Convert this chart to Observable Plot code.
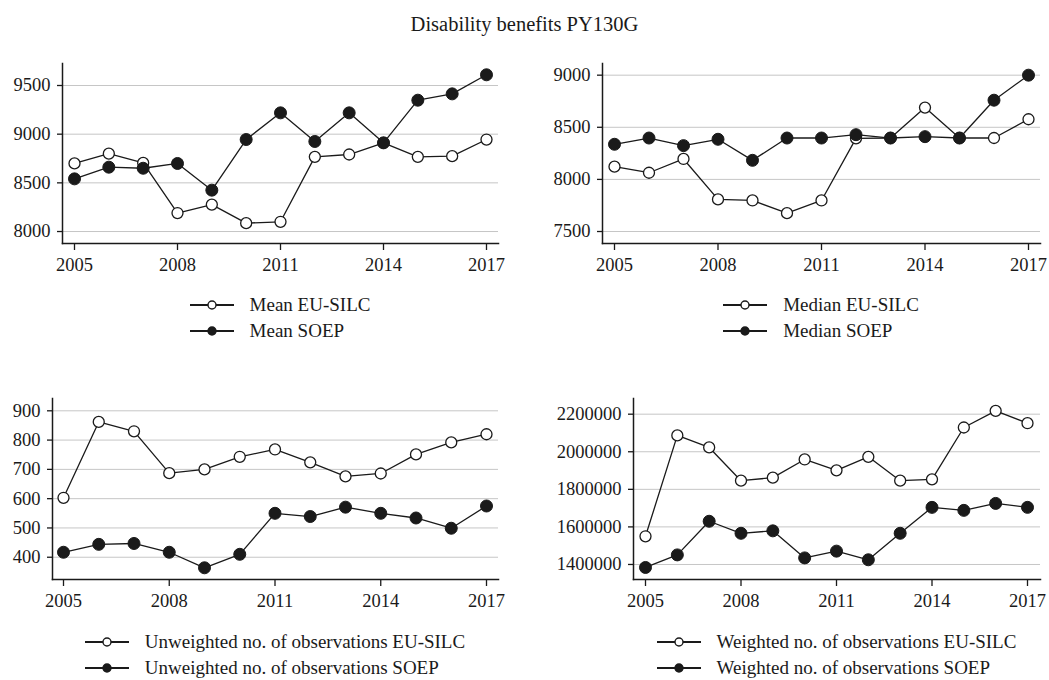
<!DOCTYPE html>
<html>
<head>
<meta charset="utf-8">
<script src="https://cdn.jsdelivr.net/npm/d3@7"></script>
<script src="https://cdn.jsdelivr.net/npm/@observablehq/plot@0.6"></script>
<style>
  html, body { margin: 0; padding: 0; background: #fff; }
  body { width: 1049px; height: 680px; position: relative; font-family: "Liberation Serif", "Times New Roman", serif; color: #1a1a1a; overflow: hidden; }
  #title { position: absolute; top: 13px; left: 0; width: 1049px; text-align: center; font-size: 20.5px; }
  .panel { position: absolute; }
  .panel svg, .panel svg text { font-family: "Liberation Serif", "Times New Roman", serif !important; }
  .legend { position: absolute; text-align: center; font-size: 19px; }
  .legend .inner { display: inline-block; text-align: left; }
  .legend .row { height: 26px; line-height: 26px; display: flex; align-items: center; white-space: nowrap; }
  .legend svg { margin-right: 16px; }
</style>
</head>
<body>
<div id="title">Disability benefits PY130G</div>
<script>
const years = [2005, 2006, 2007, 2008, 2009, 2010, 2011, 2012, 2013, 2014, 2015, 2016, 2017];
const xTicks = [2005, 2008, 2011, 2014, 2017];

const meanEU   = [8700, 8800, 8705, 8190, 8277, 8086, 8100, 8767, 8791, 8911, 8767, 8774, 8945];
const meanSOEP = [8541, 8661, 8650, 8699, 8425, 8945, 9219, 8925, 9219, 8911, 9349, 9414, 9610];

const medianEU   = [8122, 8064, 8196, 7808, 7798, 7676, 7798, 8394, 8397, 8689, 8397, 8397, 8577];
const medianSOEP = [8337, 8397, 8324, 8385, 8183, 8397, 8397, 8429, 8397, 8410, 8397, 8760, 9000];

const unwEU   = [603, 862, 830, 687, 700, 743, 768, 724, 676, 686, 751, 792, 820];
const unwSOEP = [417, 444, 447, 417, 364, 410, 550, 539, 571, 550, 534, 499, 575];

const wEU   = [1550000, 2087000, 2023000, 1846000, 1862000, 1959000, 1901000, 1973000, 1846000, 1853000, 2129000, 2218000, 2152000];
const wSOEP = [1384000, 1451000, 1630000, 1566000, 1579000, 1435000, 1471000, 1425000, 1566000, 1704000, 1688000, 1725000, 1704000];

const meanTicks = [8000, 8500, 9000, 9500];
const medianTicks = [7500, 8000, 8500, 9000];
const unwTicks = [400, 500, 600, 700, 800, 900];
const wTicks = [1400000, 1600000, 1800000, 2000000, 2200000];

const meanLabels = ["Mean EU-SILC", "Mean SOEP"];
const medianLabels = ["Median EU-SILC", "Median SOEP"];
const unwLabels = ["Unweighted no. of observations EU-SILC", "Unweighted no. of observations SOEP"];
const wLabels = ["Weighted no. of observations EU-SILC", "Weighted no. of observations SOEP"];

const FONT = '"Liberation Serif", "Times New Roman", serif';
const INK = "#1a1a1a";

function glyph(filled) {
  const ns = "http://www.w3.org/2000/svg";
  const s = document.createElementNS(ns, "svg");
  s.setAttribute("width", 44); s.setAttribute("height", 12);
  const l = document.createElementNS(ns, "line");
  l.setAttribute("x1", 0); l.setAttribute("x2", 44); l.setAttribute("y1", 6); l.setAttribute("y2", 6);
  l.setAttribute("stroke", INK); l.setAttribute("stroke-width", 1.8);
  const c = document.createElementNS(ns, "circle");
  c.setAttribute("cx", 22); c.setAttribute("cy", 6); c.setAttribute("r", 4);
  c.setAttribute("fill", filled ? INK : "#fff"); c.setAttribute("stroke", INK); c.setAttribute("stroke-width", 1.4);
  s.append(l, c);
  return s;
}

function panel(o) {
  const rows = (arr, series) => years.map((yr, i) => ({year: yr, value: arr[i], series}));
  const eu = rows(o.eu, "EU-SILC");
  const soep = rows(o.soep, "SOEP");
  const chart = Plot.plot({
    width: o.width,
    height: o.height,
    marginTop: o.marginTop,
    marginBottom: o.marginBottom,
    marginLeft: o.marginLeft,
    marginRight: o.marginRight,
    style: {fontFamily: FONT, fontSize: "18.5px", color: INK, background: "transparent"},
    x: {type: "linear", domain: [2005, 2017], insetLeft: o.insetLeft, insetRight: o.insetRight},
    y: {domain: o.yDomain},
    marks: [
      Plot.gridY(o.yTicks, {stroke: "#c6c6c6", strokeOpacity: 1, strokeWidth: 1}),
      Plot.axisY(o.yTicks, {tickSize: 5, tickPadding: 7, tickFormat: d3.format("d"), fontSize: 18.5, fontFamily: FONT, stroke: INK, strokeWidth: 1.3, fill: INK, label: null}),
      Plot.axisX(xTicks, {tickSize: 7, tickPadding: 7, tickFormat: d3.format("d"), fontSize: 18.5, fontFamily: FONT, stroke: INK, strokeWidth: 1.3, fill: INK, label: null}),
      Plot.frame({anchor: "left", stroke: INK, strokeWidth: 1.5}),
      Plot.frame({anchor: "bottom", stroke: INK, strokeWidth: 1.5}),
      Plot.line(eu, {x: "year", y: "value", stroke: INK, strokeWidth: 1.3}),
      Plot.dot(eu, {x: "year", y: "value", r: 5.5, fill: "#fff", stroke: INK, strokeWidth: 1.3}),
      Plot.line(soep, {x: "year", y: "value", stroke: INK, strokeWidth: 1.3}),
      Plot.dot(soep, {x: "year", y: "value", r: 6, fill: INK, stroke: INK, strokeWidth: 1})
    ]
  });
  const div = document.createElement("div");
  div.className = "panel";
  div.style.left = o.left + "px";
  div.style.top = o.top + "px";
  div.append(chart);
  document.body.append(div);

  const leg = document.createElement("div");
  leg.className = "legend";
  leg.style.left = (o.left + o.marginLeft) + "px";
  leg.style.width = (o.width - o.marginLeft - o.marginRight) + "px";
  leg.style.top = o.legendTop + "px";
  const inner = document.createElement("div");
  inner.className = "inner";
  o.labels.forEach((lab, i) => {
    const r = document.createElement("div");
    r.className = "row";
    r.append(glyph(i === 1));
    const sp = document.createElement("span");
    sp.textContent = lab;
    r.append(sp);
    inner.append(r);
  });
  leg.append(inner);
  document.body.append(leg);
}

panel({left: 0, top: 50, width: 525, height: 235, marginTop: 13, marginBottom: 42, marginLeft: 62, marginRight: 27,
  insetLeft: 12, insetRight: 12, yDomain: [7877, 9726], yTicks: meanTicks, eu: meanEU, soep: meanSOEP, labels: meanLabels, legendTop: 292});
panel({left: 525, top: 50, width: 524, height: 235, marginTop: 13, marginBottom: 42, marginLeft: 77, marginRight: 9,
  insetLeft: 12, insetRight: 12, yDomain: [7385, 9112], yTicks: medianTicks, eu: medianEU, soep: medianSOEP, labels: medianLabels, legendTop: 292});
panel({left: 0, top: 385, width: 525, height: 236, marginTop: 13, marginBottom: 42, marginLeft: 52, marginRight: 27,
  insetLeft: 11, insetRight: 12, yDomain: [324, 942], yTicks: unwTicks, eu: unwEU, soep: unwSOEP, labels: unwLabels, legendTop: 629});
panel({left: 525, top: 385, width: 524, height: 236, marginTop: 13, marginBottom: 42, marginLeft: 108, marginRight: 9,
  insetLeft: 12, insetRight: 13, yDomain: [1320000, 2283500], yTicks: wTicks, eu: wEU, soep: wSOEP, labels: wLabels, legendTop: 629});
</script>
</body>
</html>
